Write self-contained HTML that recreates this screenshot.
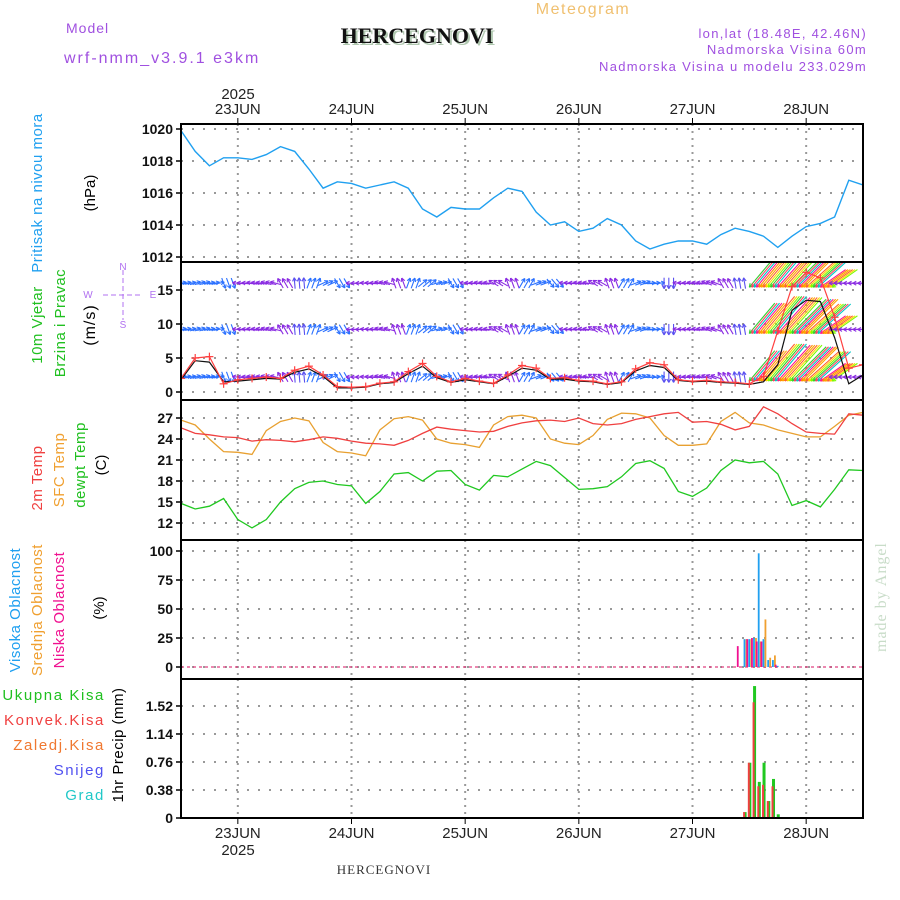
<!DOCTYPE html>
<html><head><meta charset="utf-8"><style>
html,body{margin:0;padding:0;background:#fff;}
svg{display:block;font-family:"Liberation Sans",sans-serif;}
</style></head><body>
<svg id="chart" xmlns="http://www.w3.org/2000/svg" width="900" height="900" viewBox="0 0 900 900">
<rect width="900" height="900" fill="#fff"/>
<text x="583" y="14" font-size="16" fill="#f0c070" text-anchor="middle" letter-spacing="1.5">Meteogram</text>
<text x="66" y="33" font-size="14" fill="#a050e0" letter-spacing="1">Model</text>
<text x="64" y="63" font-size="16" fill="#a050e0" letter-spacing="2">wrf-nmm_v3.9.1 e3km</text>
<text x="419" y="45" font-size="22" font-weight="bold" font-family="Liberation Serif, serif" fill="#b0c8b0" text-anchor="middle">HERCEGNOVI</text>
<text x="417" y="43" font-size="22" font-weight="bold" font-family="Liberation Serif, serif" fill="#111" text-anchor="middle">HERCEGNOVI</text>
<text x="867" y="38" font-size="13" fill="#a050e0" text-anchor="end" letter-spacing="1.3">lon,lat (18.48E, 42.46N)</text>
<text x="867" y="54" font-size="13" fill="#a050e0" text-anchor="end" letter-spacing="1.3">Nadmorska Visina 60m</text>
<text x="867" y="71" font-size="13" fill="#a050e0" text-anchor="end" letter-spacing="1.3">Nadmorska Visina u modelu 233.029m</text>
<text x="238" y="99" font-size="15" fill="#222" text-anchor="middle">2025</text>
<text x="238" y="855" font-size="15" fill="#222" text-anchor="middle">2025</text>
<text x="384" y="874" font-size="13" font-family="Liberation Serif, serif" fill="#333" text-anchor="middle" letter-spacing="1">HERCEGNOVI</text>
<text transform="translate(886,652) rotate(-90)" font-size="16" font-family="Liberation Serif, serif" fill="#c8dcc8" letter-spacing="1">made by Angel</text>

<g>
<text transform="translate(42,193) rotate(-90)" font-size="15" fill="#20a0f0" text-anchor="middle" letter-spacing="0.5">Pritisak na nivou mora</text>
<text transform="translate(95,193) rotate(-90)" font-size="15" fill="#000" text-anchor="middle">(hPa)</text>
</g>
<g>
<text transform="translate(42,325) rotate(-90)" font-size="15" fill="#20c020" text-anchor="middle" letter-spacing="0.5">10m Vjetar</text>
<text transform="translate(65,323) rotate(-90)" font-size="15" fill="#20c020" text-anchor="middle" letter-spacing="0.5">Brzina i Pravac</text>
<text transform="translate(95,325) rotate(-90)" font-size="16" fill="#000" text-anchor="middle" letter-spacing="1">(m/s)</text>
</g>
<g stroke="#b070f0" fill="none" stroke-width="1">
<line x1="123" y1="270" x2="123" y2="320" stroke-dasharray="5,3"/>
<line x1="103" y1="295" x2="143" y2="295" stroke-dasharray="5,3"/>
</g>
<g font-size="10" fill="#b070f0" text-anchor="middle">
<text x="123" y="270">N</text><text x="88" y="298">W</text><text x="153" y="298">E</text><text x="123" y="328">S</text>
</g>
<g>
<text transform="translate(42,478) rotate(-90)" font-size="15" fill="#f04040" text-anchor="middle" letter-spacing="0.5">2m Temp</text>
<text transform="translate(64,470) rotate(-90)" font-size="15" fill="#f0a030" text-anchor="middle" letter-spacing="0.5">SFC Temp</text>
<text transform="translate(85,465) rotate(-90)" font-size="15" fill="#20c020" text-anchor="middle" letter-spacing="0.5">dewpt Temp</text>
<text transform="translate(106,465) rotate(-90)" font-size="15" fill="#000" text-anchor="middle">(C)</text>
</g>
<g>
<text transform="translate(20,610) rotate(-90)" font-size="15" fill="#20a0f0" text-anchor="middle" letter-spacing="0.5">Visoka Oblacnost</text>
<text transform="translate(42,610) rotate(-90)" font-size="15" fill="#f0a030" text-anchor="middle" letter-spacing="0.5">Srednja Oblacnost</text>
<text transform="translate(64,610) rotate(-90)" font-size="15" fill="#f01090" text-anchor="middle" letter-spacing="0.5">Niska Oblacnost</text>
<text transform="translate(104,608) rotate(-90)" font-size="15" fill="#000" text-anchor="middle">(%)</text>
</g>
<g font-size="15" text-anchor="end" letter-spacing="1.6">
<text x="105" y="700" fill="#20c020">Ukupna Kisa</text>
<text x="105" y="725" fill="#f04040">Konvek.Kisa</text>
<text x="105" y="750" fill="#f07830">Zaledj.Kisa</text>
<text x="105" y="775" fill="#5050f0">Snijeg</text>
<text x="105" y="800" fill="#20c8c8">Grad</text>
<text transform="translate(123,745) rotate(-90)" font-size="15" fill="#000" text-anchor="middle" letter-spacing="0.5">1hr Precip (mm)</text>
</g>
<defs>
<clipPath id="c1"><rect x="181" y="124" width="682" height="138"/></clipPath>
<clipPath id="c2"><rect x="181" y="262" width="682" height="138"/></clipPath>
<clipPath id="c3"><rect x="181" y="400" width="682" height="140"/></clipPath>
<clipPath id="c4"><rect x="181" y="540" width="682" height="139"/></clipPath>
<clipPath id="c5"><rect x="181" y="679" width="682" height="139"/></clipPath>
</defs>
<g id="layer"></g>
</svg>
<script>
// ---- data (3-hourly, hours since 22 Jun 12:00) ----
const hours = [0,3,6,9,12,15,18,21,24,27,30,33,36,39,42,45,48,51,54,57,60,63,66,69,72,75,78,81,84,87,90,93,96,99,102,105,108,111,114,117,120,123,126,129,132,135,138,141,144];
const dayLabels = ["23JUN","24JUN","25JUN","26JUN","27JUN","28JUN"];
const dayHours = [12,36,60,84,108,132];
const pressure = [1019.9,1018.6,1017.7,1018.2,1018.2,1018.1,1018.4,1018.9,1018.6,1017.5,1016.3,1016.7,1016.6,1016.3,1016.5,1016.7,1016.3,1015.0,1014.5,1015.1,1015.0,1015.0,1015.7,1016.3,1016.1,1014.8,1014.0,1014.2,1013.6,1013.8,1014.4,1014.0,1013.0,1012.5,1012.8,1013.0,1013.0,1012.8,1013.4,1013.8,1013.6,1013.3,1012.6,1013.3,1013.9,1014.1,1014.5,1016.8,1016.5];
const pressureTicks = [1012,1014,1016,1018,1020];
const windSpeed = [2.0,5.0,5.2,1.2,1.8,2.0,2.2,2.0,3.2,3.8,2.5,0.8,0.7,0.8,1.3,1.5,3.0,4.2,2.3,1.5,2.0,1.6,1.3,2.5,3.9,3.5,2.0,2.1,1.7,1.6,1.2,1.5,3.4,4.3,4.0,1.8,1.6,1.7,1.5,1.4,1.2,2.3,9.0,15.5,17.6,16.8,11.0,3.5,4.0];
const windGust = [1.8,4.6,4.4,1.5,1.6,1.8,2.0,1.9,2.9,3.4,2.3,0.6,0.6,0.7,1.2,1.4,2.7,3.8,2.1,1.4,1.8,1.5,1.2,2.3,3.5,3.2,1.9,1.9,1.6,1.5,1.1,1.4,3.1,3.9,3.6,1.7,1.5,1.6,1.4,1.3,1.1,1.5,4.0,12.0,13.5,13.3,8.0,1.2,2.5];
const windDir = [10,15,10,-70,175,170,165,120,95,70,25,-60,180,175,165,110,70,40,15,-60,175,170,150,110,60,20,-50,175,170,150,110,60,20,5,-90,175,170,160,120,100,230,230,228,225,222,215,180,180,180];
const rowSpeed = [3,3,3,3,3,3,3,3,3,3,3,3,3,3,3,3,3,3,3,3,3,3,3,3,3,3,3,3,3,3,3,3,3,3,3,3,3,3,3,3,9,11,11,11,10,7,3,3,3];
const windRows = [16,9.2,2.2];
const windTicks = [0,5,10,15];
const temp2m = [25.6,24.8,24.6,24.3,24.2,23.7,23.9,23.8,23.6,23.9,24.3,24.1,23.7,23.4,23.3,23.1,23.8,24.8,25.7,25.4,25.2,25.0,25.1,25.8,26.3,26.6,26.7,26.5,27.0,26.2,26.0,26.2,26.8,27.2,27.6,27.8,26.4,26.5,26.1,25.3,25.8,28.6,27.6,26.2,25.0,24.8,24.7,27.6,27.4];
const tempSfc = [26.7,26.0,24.0,22.2,22.1,21.8,25.2,26.5,27.0,26.6,23.5,22.2,22.0,21.6,25.3,26.9,27.2,26.7,24.0,23.4,23.2,22.8,26.0,27.2,27.4,27.0,24.0,23.4,23.2,24.5,26.8,27.7,27.6,27.0,24.5,23.1,23.1,23.3,26.5,27.8,26.3,26.0,25.3,24.8,24.3,24.3,25.8,27.4,27.8];
const dewpoint = [14.8,14.0,14.4,15.5,12.5,11.3,12.5,15.0,16.9,17.8,18.0,17.5,17.3,14.8,16.5,19.0,19.2,18.0,19.4,19.5,17.5,16.7,18.8,18.6,19.7,20.8,20.2,18.5,16.8,16.9,17.2,18.6,20.5,20.9,19.8,16.5,15.8,17.0,19.5,21.0,20.6,20.8,19.0,14.5,15.2,14.3,16.8,19.6,19.5];
const tempTicks = [12,15,18,21,24,27];
const cloudHours = [118,119,120,121,122,123,124,125,126];
const cloudHigh = [0,24,24,25,98,24,6,6,1];
const cloudMid = [0,24,24,25,22,41,8,10,0];
const cloudLow = [18,0,24,25,22,22,0,0,2];
const cloudTicks = [0,25,50,75,100];
const precipHours = [119,120,121,122,123,124,125,126];
const precipTotal = [0.08,0.75,1.79,0.49,0.75,0.23,0.53,0.05];
const precipConv = [0.08,0.75,1.57,0.43,0.45,0.23,0.43,0.0];
const precipTicks = [0,0.38,0.76,1.14,1.52];
const precipTickLabels = ["0","0.38","0.76","1.14","1.52"];

// ---- axes ----
const X = h => 181 + h * 682 / 144;
const Y1 = p => 257 - (p - 1012) * 16;
const Y2 = s => 392 - s * 6.8;
const Y3 = t => 418 + (27 - t) * 7;
const Y4 = c => 667 - c * 1.16;
const Y5 = p => 818 - p * 73.7;

const NS = "http://www.w3.org/2000/svg";
const layer = document.getElementById("layer");
function mk(tag, attrs, parent) {
  const e = document.createElementNS(NS, tag);
  for (const k in attrs) e.setAttribute(k, attrs[k]);
  (parent || layer).appendChild(e);
  return e;
}
const panels = [[124,262],[262,400],[400,540],[540,679],[679,818]];

const grid = mk("g", {});


panels.forEach(p => {
  dayHours.forEach(dh => mk("line", {x1: X(dh), x2: X(dh), y1: p[0], y2: p[1], stroke: "#999", "stroke-width": 2, "stroke-dasharray": "2,5"}, grid));
});
function hgrid(vals, fn) {
  vals.forEach(v => mk("line", {x1: 181, x2: 863, y1: fn(v), y2: fn(v), stroke: "#999", "stroke-width": 2, "stroke-dasharray": "2,9"}, grid));
}
hgrid(pressureTicks, Y1); hgrid(windTicks, Y2); hgrid(tempTicks, Y3); hgrid(cloudTicks, Y4); hgrid(precipTicks, Y5);

const ticks = mk("g", {"font-size": 14, "font-weight": "bold", fill: "#111", "text-anchor": "end"});


function tl(vals, fn, labels) {
  vals.forEach((v, i) => {
    const t = mk("text", {x: 173, y: fn(v) + 5}, ticks);
    t.textContent = labels ? labels[i] : String(v);
    mk("line", {x1: 176, x2: 181, y1: fn(v), y2: fn(v), stroke: "#000", "stroke-width": 1.5}, ticks);
  });
}
tl(pressureTicks, Y1); tl(windTicks, Y2); tl(tempTicks, Y3); tl(cloudTicks, Y4); tl(precipTicks, Y5, precipTickLabels);

const dl = mk("g", {"font-size": 15, fill: "#222", "text-anchor": "middle"});


dayHours.forEach((dh, i) => {
  const t1 = mk("text", {x: X(dh), y: 114}, dl); t1.textContent = dayLabels[i];
  const t2 = mk("text", {x: X(dh), y: 838}, dl); t2.textContent = dayLabels[i];
  mk("line", {x1: X(dh), x2: X(dh), y1: 118, y2: 124, stroke: "#000"}, dl);
  mk("line", {x1: X(dh), x2: X(dh), y1: 818, y2: 824, stroke: "#000"}, dl);
});

function linePath(vals, fn) {
  return vals.map((v, i) => (i ? "L" : "M") + X(hours[i]).toFixed(1) + "," + fn(v).toFixed(1)).join("");
}

const pl = mk("path", {d: linePath(pressure, Y1), fill: "none", stroke: "#20a0f0", "stroke-width": 1.4, "clip-path": "url(#c1)"});



// wind arrows
const wg = mk("g", {"clip-path": "url(#c2)", "stroke-width": 1.1, fill: "none"});


const eventCols = ["#ff1493","#ff8c00","#ffa500","#ff6030","#ffd700","#7cfc00","#32cd32","#ff4060","#00c8c8"];
windRows.forEach(rv => {
  hours.forEach((h, i) => {
    const ev = rowSpeed[i] > 6;
    const n = ev ? 6 : 3;
    for (let k = 0; k < n; k++) {
      const hh = h + k * 3 / n;
      if (hh > 144) continue;
      const a = windDir[i] * Math.PI / 180;
      const len = ev ? rowSpeed[i] * 4.4 : 11;
      const dx = Math.cos(a) * len, dy = -Math.sin(a) * len;
      let bx = X(hh), by = Y2(rv), tx, ty, col;
      if (ev) {
        tx = bx; ty = by + 4; bx = tx - dx; by = ty - dy;
        col = eventCols[(i * 6 + k) % eventCols.length];
      } else {
        bx -= dx / 2; by -= dy / 2;
        tx = bx + dx; ty = by + dy;
        const c = Math.cos(a);
        col = c > 0.3 ? "#2a70ff" : (c < -0.3 ? "#8a2be2" : "#5a50f0");
      }
      mk("line", {x1: bx, y1: by, x2: tx, y2: ty, stroke: col}, wg);
      const ang = Math.atan2(ty - by, tx - bx);
      [0.5, -0.5].forEach(d => {
        mk("line", {x1: tx, y1: ty, x2: tx - 4 * Math.cos(ang + d), y2: ty - 4 * Math.sin(ang + d), stroke: col}, wg);
      });
    }
  });
});

const gl = mk("path", {d: linePath(windGust, Y2), fill: "none", stroke: "#111", "stroke-width": 1.2, "clip-path": "url(#c2)"});


const sl = mk("path", {d: linePath(windSpeed, Y2), fill: "none", stroke: "#ff4040", "stroke-width": 1.2, "clip-path": "url(#c2)"});


const mg = mk("g", {stroke: "#ff4040", "stroke-width": 1.2, "clip-path": "url(#c2)"});


windSpeed.forEach((v, i) => {
  const x = X(hours[i]), y = Y2(v);
  mk("line", {x1: x - 4, x2: x + 4, y1: y, y2: y}, mg);
  mk("line", {x1: x, x2: x, y1: y - 4, y2: y + 4}, mg);
});

[[tempSfc, "#e8a030", "sfc-temp-line"], [temp2m, "#f04040", "temp-2m-line"], [dewpoint, "#20c820", "dewpoint-line"]].forEach(s => {
  const p = mk("path", {d: linePath(s[0], Y3), fill: "none", stroke: s[1], "stroke-width": 1.3, "clip-path": "url(#c3)"});
  
  
});

const cg = mk("g", {"clip-path": "url(#c4)"});


mk("line", {x1: 181, x2: 863, y1: Y4(0), y2: Y4(0), stroke: "#e04080", "stroke-width": 1.2, "stroke-dasharray": "3,3"}, cg);
cloudHours.forEach((h, i) => {
  const x = X(h);
  [[cloudLow[i], "#f01090", -2], [cloudHigh[i], "#20a0f0", 0], [cloudMid[i], "#f0a030", 2]].forEach(b => {
    if (b[0] > 0) mk("rect", {x: x + b[2] - 1, y: Y4(b[0]), width: 1.8, height: Y4(0) - Y4(b[0]), fill: b[1]}, cg);
  });
});

const pg = mk("g", {"clip-path": "url(#c5)"});


precipHours.forEach((h, i) => {
  const x = X(h);
  if (precipTotal[i] > 0) mk("rect", {x: x - 1, y: Y5(precipTotal[i]), width: 3, height: Y5(0) - Y5(precipTotal[i]), fill: "#20c820"}, pg);
  if (precipConv[i] > 0) mk("rect", {x: x - 1.5, y: Y5(precipConv[i]), width: 2, height: Y5(0) - Y5(precipConv[i]), fill: "#f04040"}, pg);
});

const fr = mk("g", {fill: "none", stroke: "#000", "stroke-width": 2});


panels.forEach(p => mk("rect", {x: 181, y: p[0], width: 682, height: p[1] - p[0]}, fr));
</script>
</body></html>
